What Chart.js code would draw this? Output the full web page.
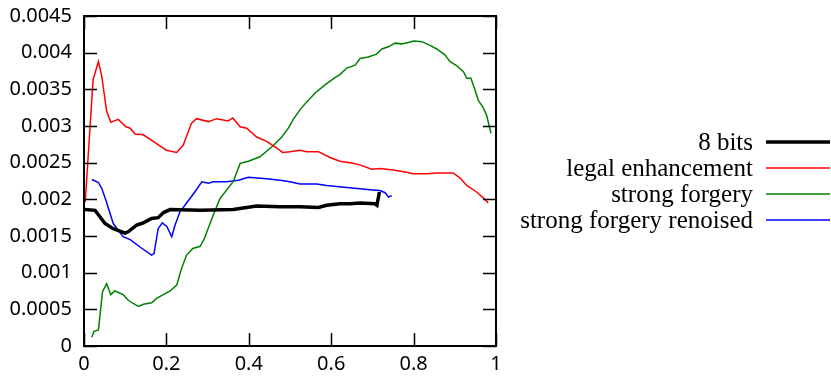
<!DOCTYPE html>
<html>
<head>
<meta charset="utf-8">
<script src="https://cdn.jsdelivr.net/npm/chart.js@4"></script>
<style>
  html, body { margin: 0; padding: 0; background: #fff; }
  #wrap { width: 831px; height: 381px; }
</style>
</head>
<body>
<div id="wrap"><canvas id="grafico" width="831" height="381"></canvas></div>
<script>
// series
const bitsX = [0.002, 0.027, 0.039, 0.051, 0.071, 0.100, 0.108, 0.128, 0.144, 0.164, 0.180, 0.193, 0.209, 0.282, 0.362, 0.419, 0.476, 0.524, 0.569, 0.589, 0.621, 0.646, 0.670, 0.706, 0.711, 0.717];
const bitsY = [0.00186, 0.00185, 0.00176, 0.00167, 0.00160, 0.00154, 0.00156, 0.00165, 0.00168, 0.00174, 0.00175, 0.00182, 0.00186, 0.00185, 0.00186, 0.00191, 0.00190, 0.00190, 0.00189, 0.00192, 0.00194, 0.00194, 0.00195, 0.00194, 0.00192, 0.00210];

const legalX = [0.003, 0.022, 0.035, 0.043, 0.055, 0.065, 0.083, 0.102, 0.112, 0.124, 0.144, 0.168, 0.200, 0.225, 0.241, 0.261, 0.273, 0.302, 0.322, 0.350, 0.361, 0.379, 0.395, 0.419, 0.443, 0.468, 0.482, 0.500, 0.524, 0.541, 0.569, 0.597, 0.621, 0.646, 0.670, 0.698, 0.718, 0.751, 0.783, 0.799, 0.832, 0.856, 0.896, 0.913, 0.929, 0.953, 0.973, 0.981];
const legalY = [0.00196, 0.00363, 0.00388, 0.00368, 0.00320, 0.00305, 0.00309, 0.00299, 0.00297, 0.00289, 0.00288, 0.00279, 0.00267, 0.00264, 0.00274, 0.00304, 0.00310, 0.00306, 0.00310, 0.00307, 0.00311, 0.00299, 0.00297, 0.00285, 0.00279, 0.00270, 0.00264, 0.00265, 0.00267, 0.00265, 0.00265, 0.00257, 0.00252, 0.00250, 0.00247, 0.00241, 0.00242, 0.00240, 0.00237, 0.00235, 0.00235, 0.00236, 0.00236, 0.00229, 0.00219, 0.00210, 0.00200, 0.00195];

const forgeryX = [0.019, 0.024, 0.035, 0.045, 0.055, 0.065, 0.075, 0.095, 0.108, 0.132, 0.144, 0.164, 0.176, 0.209, 0.225, 0.237, 0.249, 0.264, 0.282, 0.291, 0.314, 0.330, 0.362, 0.379, 0.399, 0.427, 0.459, 0.480, 0.496, 0.508, 0.524, 0.541, 0.561, 0.585, 0.609, 0.621, 0.638, 0.658, 0.670, 0.690, 0.710, 0.723, 0.739, 0.755, 0.771, 0.787, 0.801, 0.820, 0.840, 0.856, 0.876, 0.888, 0.905, 0.921, 0.929, 0.939, 0.949, 0.957, 0.968, 0.977, 0.988];
const forgeryY = [0.00012, 0.00020, 0.00022, 0.00074, 0.00085, 0.00070, 0.00075, 0.00070, 0.00062, 0.00054, 0.00057, 0.00059, 0.00065, 0.00075, 0.00083, 0.00106, 0.00124, 0.00133, 0.00136, 0.00145, 0.00179, 0.00201, 0.00224, 0.00249, 0.00252, 0.00258, 0.00273, 0.00285, 0.00297, 0.00309, 0.00322, 0.00333, 0.00345, 0.00356, 0.00366, 0.00370, 0.00379, 0.00383, 0.00392, 0.00394, 0.00398, 0.00405, 0.00408, 0.00413, 0.00412, 0.00414, 0.00416, 0.00415, 0.00410, 0.00405, 0.00397, 0.00388, 0.00382, 0.00374, 0.00365, 0.00365, 0.00349, 0.00335, 0.00326, 0.00315, 0.00290];

const renoisedX = [0.019, 0.035, 0.043, 0.053, 0.071, 0.095, 0.112, 0.136, 0.164, 0.170, 0.180, 0.190, 0.201, 0.213, 0.221, 0.233, 0.249, 0.269, 0.286, 0.302, 0.314, 0.346, 0.375, 0.399, 0.443, 0.476, 0.500, 0.524, 0.565, 0.589, 0.638, 0.694, 0.718, 0.731, 0.739, 0.747];
const renoisedY = [0.00227, 0.00223, 0.00215, 0.00199, 0.00167, 0.00149, 0.00145, 0.00135, 0.00124, 0.00126, 0.00160, 0.00168, 0.00163, 0.00149, 0.00165, 0.00183, 0.00195, 0.00210, 0.00224, 0.00222, 0.00224, 0.00224, 0.00226, 0.00230, 0.00228, 0.00226, 0.00224, 0.00221, 0.00221, 0.00219, 0.00216, 0.00213, 0.00212, 0.00209, 0.00203, 0.00205];

const nombres = ['8 bits', 'legal enhancement', 'strong forgery', 'strong forgery renoised'];
const colores = ['#000000', '#ff0000', '#008000', '#0000ff'];
const grosores = [3.5, 1.5, 1.5, 1.5];

const xTicks = [0, 0.2, 0.4, 0.6, 0.8, 1];
const yTicks = [0, 0.0005, 0.001, 0.0015, 0.002, 0.0025, 0.003, 0.0035, 0.004, 0.0045];

function puntos(xs, ys) {
  return xs.map((x, i) => ({ x: x, y: ys[i] }));
}

const series = [[bitsX, bitsY], [legalX, legalY], [forgeryX, forgeryY], [renoisedX, renoisedY]];

// frame, inward ticks on all four sides, and gnuplot style key
const marcoPlugin = {
  id: 'marco',
  afterDatasetsDraw(chart) {
    const { ctx, chartArea: a, scales } = chart;
    const t = 13;
    ctx.save();
    ctx.strokeStyle = '#000';
    ctx.lineWidth = 1.5;
    ctx.beginPath();
    yTicks.forEach(v => {
      const y = Math.round(scales.y.getPixelForValue(v)) + 0.5;
      ctx.moveTo(a.left, y); ctx.lineTo(a.left + t, y);
      ctx.moveTo(a.right, y); ctx.lineTo(a.right - t, y);
    });
    xTicks.forEach(v => {
      const x = Math.round(scales.x.getPixelForValue(v)) + 0.5;
      ctx.moveTo(x, a.bottom); ctx.lineTo(x, a.bottom - t);
      ctx.moveTo(x, a.top); ctx.lineTo(x, a.top + t);
    });
    ctx.stroke();
    ctx.lineWidth = 2;
    ctx.strokeRect(a.left, a.top, a.right - a.left, a.bottom - a.top);

    // key
    ctx.font = '25px "Liberation Serif"';
    ctx.textAlign = 'right';
    ctx.textBaseline = 'middle';
    chart.data.datasets.forEach((ds, i) => {
      const y = 142 + i * 26;
      ctx.fillStyle = '#000';
      ctx.fillText(ds.label, 753, y + 1);
      ctx.strokeStyle = ds.borderColor;
      ctx.lineWidth = ds.borderWidth;
      ctx.beginPath();
      ctx.moveTo(766, y); ctx.lineTo(830, y);
      ctx.stroke();
    });
    ctx.restore();
  }
};

const ctx = document.getElementById('grafico').getContext('2d');

new Chart(ctx, {
  type: 'line',
  data: {
    datasets: series.map((s, i) => ({
      label: nombres[i],
      data: puntos(s[0], s[1]),
      borderColor: colores[i],
      backgroundColor: colores[i],
      borderWidth: grosores[i],
      pointRadius: 0,
      tension: 0,
      fill: false
    }))
  },
  options: {
    responsive: false,
    animation: false,
    events: [],
    layout: { padding: { top: 16, right: 335, left: 0, bottom: 0 } },
    plugins: {
      legend: { display: false },
      tooltip: { enabled: false }
    },
    scales: {
      x: {
        type: 'linear',
        min: 0,
        max: 1,
        afterBuildTicks: axis => { axis.ticks = xTicks.map(v => ({ value: v })); },
        afterFit: axis => { axis.height = 35; axis.paddingLeft = 0; axis.paddingRight = 0; },
        grid: { display: false, drawTicks: false },
        border: { display: false },
        ticks: {
          color: '#000',
          font: { family: '"Noto Sans"', size: 20 },
          padding: 6,
          maxRotation: 0,
          callback: v => String(v)
        }
      },
      y: {
        type: 'linear',
        min: 0,
        max: 0.0045,
        afterBuildTicks: axis => { axis.ticks = yTicks.map(v => ({ value: v })); },
        afterFit: axis => { axis.width = 84; axis.paddingTop = 0; axis.paddingBottom = 0; },
        grid: { display: false, drawTicks: false },
        border: { display: false },
        ticks: {
          color: '#000',
          font: { family: '"Noto Sans"', size: 20 },
          padding: 12,
          callback: v => String(Number(v.toFixed(4)))
        }
      }
    }
  },
  plugins: [marcoPlugin]
});
</script>
</body>
</html>
